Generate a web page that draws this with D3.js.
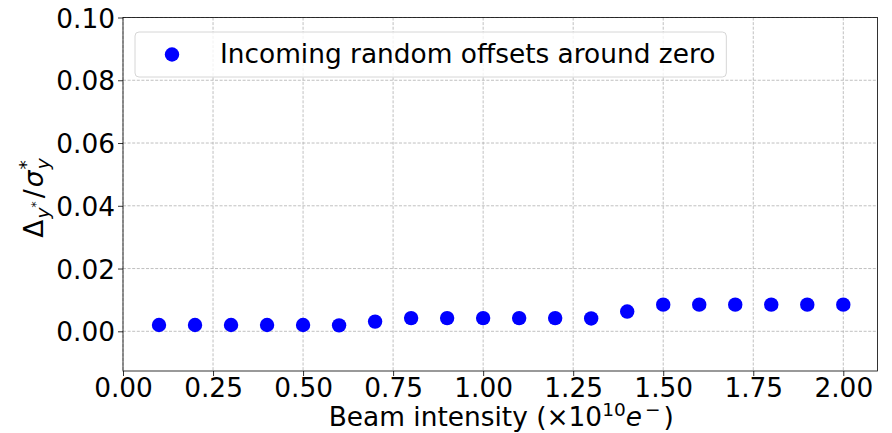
<!DOCTYPE html>
<html>
<head>
<meta charset="utf-8">
<script src="https://cdn.jsdelivr.net/npm/d3@7"></script>
<style>
  html, body { margin: 0; padding: 0; background: #fff; }
  svg text { font-family: "DejaVu Sans", sans-serif; fill: #000; }
</style>
</head>
<body>
<svg id="chart" width="892" height="433"></svg>
<script>
// Beam intensity (x10^10 e-) and normalised vertical offset at the IP
const intensity = [0.1, 0.2, 0.3, 0.4, 0.5, 0.6, 0.7, 0.8, 0.9, 1.0,
                   1.1, 1.2, 1.3, 1.4, 1.5, 1.6, 1.7, 1.8, 1.9, 2.0];
const offsetRatio = [0.0020, 0.0020, 0.0020, 0.0020, 0.0020, 0.0019, 0.0031, 0.0042, 0.0042, 0.0042,
                     0.0042, 0.0042, 0.0041, 0.0063, 0.0085, 0.0085, 0.0085, 0.0085, 0.0085, 0.0085];
const xTicks = [0, 0.25, 0.5, 0.75, 1.0, 1.25, 1.5, 1.75, 2.0];
const yTicks = [0, 0.02, 0.04, 0.06, 0.08, 0.10];
const seriesLabel = "Incoming random offsets around zero";

const svg = d3.select("#chart");
const plot = { left: 123, right: 877.5, top: 17.5, bottom: 371 };
const fontSize = 26.4;
const smallSize = 18.5;

const x = d3.scaleLinear().domain([0, 2.095]).range([plot.left, plot.right]);
const y = d3.scaleLinear().domain([-0.01265, 0.10]).range([plot.bottom, plot.top]);

// dashed grid
const grid = svg.append("g").attr("stroke", "#b0b0b0").attr("stroke-width", 0.8)
  .attr("stroke-dasharray", "3,1.6").attr("fill", "none");
grid.selectAll("line.gx").data(xTicks).join("line")
  .attr("x1", d => x(d)).attr("x2", d => x(d))
  .attr("y1", plot.top).attr("y2", plot.bottom);
grid.selectAll("line.gy").data(yTicks).join("line")
  .attr("x1", plot.left).attr("x2", plot.right)
  .attr("y1", d => y(d)).attr("y2", d => y(d));

// axes
const xAxis = d3.axisBottom(x).tickValues(xTicks).tickFormat(d3.format(".2f"))
  .tickSizeInner(5).tickSizeOuter(0).tickPadding(5);
const yAxis = d3.axisLeft(y).tickValues(yTicks).tickFormat(d3.format(".2f"))
  .tickSizeInner(5).tickSizeOuter(0).tickPadding(5);

const gx = svg.append("g").attr("transform", `translate(0,${plot.bottom})`).call(xAxis);
const gy = svg.append("g").attr("transform", `translate(${plot.left},0)`).call(yAxis);
[gx, gy].forEach(g => {
  g.select(".domain").remove();
  g.selectAll(".tick line").attr("stroke", "#000").attr("stroke-width", 0.8);
  g.selectAll(".tick text").attr("font-size", fontSize)
    .attr("font-family", "DejaVu Sans").attr("fill", "#000");
});
gx.selectAll(".tick text").attr("dy", null).attr("y", 26);
gy.selectAll(".tick text").attr("dy", "0.36em").attr("x", -8);

// frame
svg.append("rect")
  .attr("x", plot.left).attr("y", plot.top)
  .attr("width", plot.right - plot.left).attr("height", plot.bottom - plot.top)
  .attr("fill", "none").attr("stroke", "#000").attr("stroke-width", 0.8);

// points
svg.append("g").selectAll("circle").data(intensity).join("circle")
  .attr("cx", d => x(d))
  .attr("cy", (d, i) => y(offsetRatio[i]))
  .attr("r", 7.2)
  .attr("fill", "#0000ff");

// legend
const legend = svg.append("g");
const legBox = legend.append("rect")
  .attr("x", 135).attr("y", 32).attr("height", 45).attr("rx", 4)
  .attr("fill", "#fff").attr("fill-opacity", 0.8)
  .attr("stroke", "#d6d6d6").attr("stroke-width", 1);
legend.append("circle").attr("cx", 172).attr("cy", 54.5).attr("r", 7.2).attr("fill", "#0000ff");
const legText = legend.append("text").attr("x", 220).attr("y", 63)
  .attr("font-size", fontSize).text(seriesLabel);
legBox.attr("width", 220 + legText.node().getComputedTextLength() + 11 - 135);

// x-axis title: Beam intensity (×10^{10} e^{−})
const xl = svg.append("text").attr("x", (plot.left + plot.right) / 2 + 1).attr("y", 426)
  .attr("text-anchor", "middle").attr("font-size", fontSize);
xl.append("tspan").text("Beam intensity (×10");
xl.append("tspan").attr("font-size", smallSize).attr("dy", -10).text("10");
xl.append("tspan").attr("dy", 10).attr("font-style", "italic").text("e");
xl.append("tspan").attr("font-size", smallSize).attr("dy", -10).attr("dx", 3).text("−");
xl.append("tspan").attr("dy", 10).attr("dx", 3).text(")");

// y-axis title: Δ_{y*} / σ*_y
const yl = svg.append("text")
  .attr("transform", `translate(43,198) rotate(-90)`)
  .attr("text-anchor", "middle").attr("font-size", fontSize);
yl.append("tspan").text("Δ");
yl.append("tspan").attr("font-size", smallSize).attr("font-style", "italic").attr("dy", 6).attr("dx", 1).text("y");
yl.append("tspan").attr("font-size", 13).attr("dy", -9).text("*");
yl.append("tspan").attr("dy", 3).attr("dx", 3).text("/");
yl.append("tspan").attr("font-style", "italic").attr("dx", 2).text("σ");
yl.append("tspan").attr("font-size", smallSize).attr("dy", -11).attr("dx", 1).text("*");
yl.append("tspan").attr("font-size", smallSize).attr("font-style", "italic").attr("dx", -9).attr("dy", 17).text("y");
</script>
</body>
</html>
